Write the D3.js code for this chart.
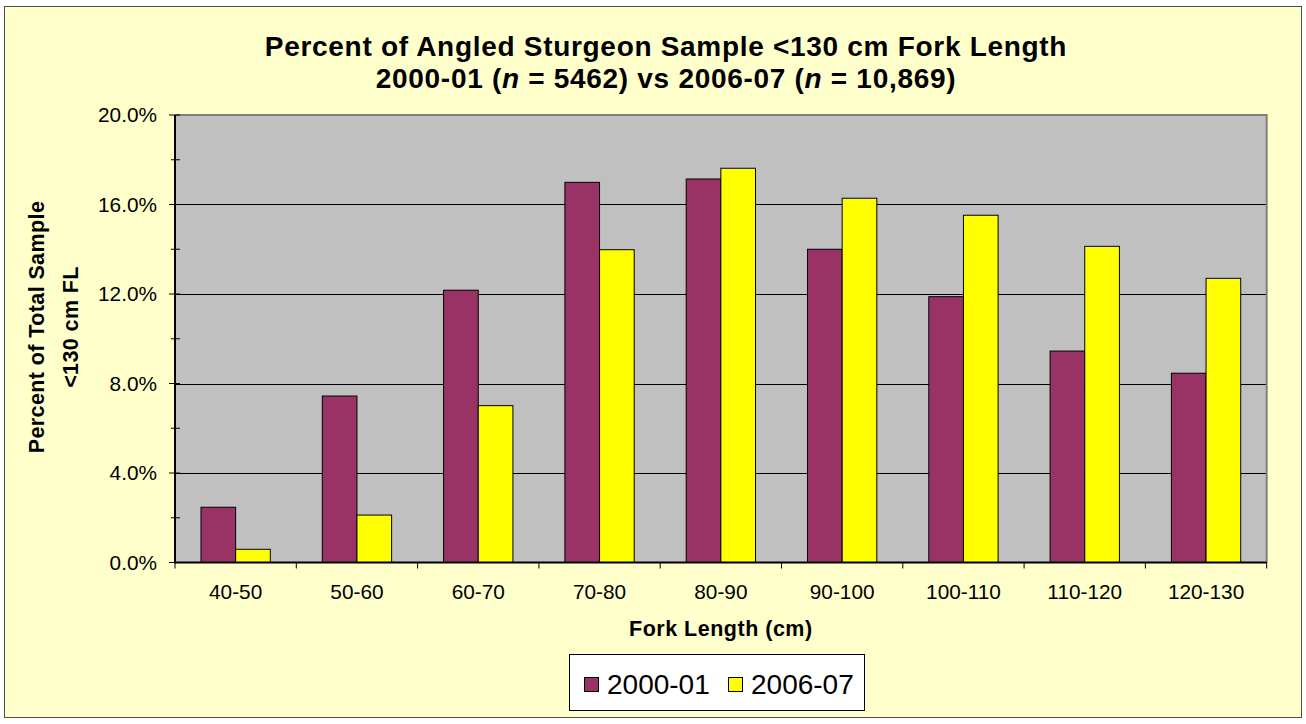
<!DOCTYPE html>
<html>
<head>
<meta charset="utf-8">
<script src="https://cdn.jsdelivr.net/npm/d3@7"></script>
<style>
  html, body { margin: 0; padding: 0; background: #ffffff; }
  svg { display: block; font-family: Arial, "Liberation Sans", sans-serif; }
</style>
</head>
<body>
<svg id="chart" width="1306" height="724"></svg>
<script>
// ---- data ----
const categories = ["40-50", "50-60", "60-70", "70-80", "80-90", "90-100", "100-110", "110-120", "120-130"];
const seriesNames = ["2000-01", "2006-07"];
const values2000 = [2.47, 7.44, 12.17, 16.99, 17.14, 14.0, 11.88, 9.45, 8.46];
const values2006 = [0.59, 2.12, 7.01, 13.98, 17.62, 16.28, 15.52, 14.13, 12.70];
const yTicks = [0, 4, 8, 12, 16, 20];
const yMinorTicks = [2, 6, 10, 14, 18];
const colors = ["#993366", "#FFFF00"];

const seriesValues = [values2000, values2006];

const svg = d3.select("#chart");

// outer chart area
svg.append("rect")
  .attr("x", 4.5).attr("y", 6.5).attr("width", 1297).attr("height", 711)
  .attr("fill", "#FFFFCC").attr("stroke", "#4d4d4d").attr("stroke-width", 1);

const plot = { left: 175, right: 1266.7, top: 115, bottom: 562.5 };

const x = d3.scaleBand().domain(categories).range([plot.left, plot.right]).paddingInner(0).paddingOuter(0);
const x1 = d3.scaleBand().domain(seriesNames).range([0, x.bandwidth()]).paddingInner(0).paddingOuter(0.75);
const y = d3.scaleLinear().domain([0, 20]).range([plot.bottom, plot.top]);

// plot background
svg.append("rect")
  .attr("x", plot.left).attr("y", plot.top)
  .attr("width", plot.right - plot.left).attr("height", plot.bottom - plot.top)
  .attr("fill", "#C0C0C0");

// gridlines
svg.append("g").selectAll("line")
  .data(yTicks.filter(t => t > 0 && t < 20))
  .join("line")
  .attr("x1", plot.left).attr("x2", plot.right)
  .attr("y1", d => Math.round(y(d)) + 0.5).attr("y2", d => Math.round(y(d)) + 0.5)
  .attr("stroke", "#000").attr("stroke-width", 1);

// plot border top / right
svg.append("path")
  .attr("d", `M${plot.left},${plot.top}H${plot.right}V${plot.bottom}`)
  .attr("fill", "none").attr("stroke", "#808080").attr("stroke-width", 2);

// bars
const groups = svg.append("g").selectAll("g")
  .data(seriesNames)
  .join("g")
  .attr("fill", (d, i) => colors[i]);

groups.selectAll("rect")
  .data((s, si) => categories.map((c, ci) => ({ c, s, v: seriesValues[si][ci] })))
  .join("rect")
  .attr("x", d => x(d.c) + x1(d.s))
  .attr("y", d => y(d.v))
  .attr("width", x1.bandwidth())
  .attr("height", d => y(0) - y(d.v))
  .attr("stroke", "#000").attr("stroke-width", 1);

// y axis
const yAxis = d3.axisLeft(y).tickValues(yTicks).tickFormat(d => d.toFixed(1) + "%").tickSize(0).tickPadding(18);
const yg = svg.append("g").attr("transform", `translate(${plot.left},0)`).call(yAxis);
yg.select(".domain").remove();
yg.selectAll("text")
  .attr("font-size", 20.8).attr("fill", "#000")
  .attr("font-family", "Arial, 'Liberation Sans', sans-serif");

// y ticks (cross)
svg.append("g").selectAll("line")
  .data(yTicks)
  .join("line")
  .attr("x1", plot.left - 6).attr("x2", plot.left + 5)
  .attr("y1", d => y(d)).attr("y2", d => y(d))
  .attr("stroke", "#000").attr("stroke-width", 1);
svg.append("g").selectAll("line")
  .data(yMinorTicks)
  .join("line")
  .attr("x1", plot.left - 4).attr("x2", plot.left + 5)
  .attr("y1", d => y(d)).attr("y2", d => y(d))
  .attr("stroke", "#000").attr("stroke-width", 1);

// y axis line
svg.append("line")
  .attr("x1", plot.left).attr("x2", plot.left)
  .attr("y1", plot.top).attr("y2", plot.bottom)
  .attr("stroke", "#000").attr("stroke-width", 2);

// x axis labels
const xAxis = d3.axisBottom(x).tickSize(0).tickPadding(22);
const xg = svg.append("g").attr("transform", `translate(0,${plot.bottom})`).call(xAxis);
xg.select(".domain").remove();
xg.selectAll("text")
  .attr("font-size", 20.8).attr("fill", "#000")
  .attr("font-family", "Arial, 'Liberation Sans', sans-serif");

// x boundary ticks
const boundaries = categories.map(c => x(c)).concat([x.range()[1]]);
svg.append("g").selectAll("line")
  .data(boundaries)
  .join("line")
  .attr("x1", d => d).attr("x2", d => d)
  .attr("y1", plot.bottom).attr("y2", plot.bottom + 6)
  .attr("stroke", "#000").attr("stroke-width", 1);

// x axis line
svg.append("line")
  .attr("x1", plot.left - 1).attr("x2", plot.right)
  .attr("y1", plot.bottom).attr("y2", plot.bottom)
  .attr("stroke", "#000").attr("stroke-width", 2);

// title
const title = svg.append("text")
  .attr("text-anchor", "middle").attr("font-weight", "bold")
  .attr("font-size", 28).attr("letter-spacing", 0.7).attr("fill", "#000");
title.append("tspan").attr("x", 666).attr("y", 56)
  .text("Percent of Angled Sturgeon Sample <130 cm Fork Length");
const t2 = title.append("tspan").attr("x", 666).attr("y", 88);
t2.append("tspan").text("2000-01 (");
t2.append("tspan").attr("font-style", "italic").text("n");
t2.append("tspan").text(" = 5462) vs 2006-07 (");
t2.append("tspan").attr("font-style", "italic").text("n");
t2.append("tspan").text(" = 10,869)");

// y axis title
const yt = svg.append("text")
  .attr("transform", "translate(0,327) rotate(-90)")
  .attr("text-anchor", "middle").attr("font-weight", "bold")
  .attr("font-size", 21.5).attr("letter-spacing", 0.4).attr("fill", "#000");
yt.append("tspan").attr("x", 0).attr("y", 44).text("Percent of Total Sample");
yt.append("tspan").attr("x", 0).attr("y", 78).text("<130 cm FL");

// x axis title
svg.append("text")
  .attr("x", (plot.left + plot.right) / 2).attr("y", 636)
  .attr("text-anchor", "middle").attr("font-weight", "bold")
  .attr("font-size", 21.5).attr("letter-spacing", 0.5).attr("fill", "#000")
  .text("Fork Length (cm)");

// legend
const legend = svg.append("g");
legend.append("rect")
  .attr("x", 569.5).attr("y", 654.5).attr("width", 295).attr("height", 56)
  .attr("fill", "#fff").attr("stroke", "#000").attr("stroke-width", 1);
const legendX = [584, 728];
const li = legend.selectAll("g.item")
  .data(seriesNames)
  .join("g").attr("class", "item")
  .attr("transform", (d, i) => `translate(${legendX[i]},0)`);
li.append("rect")
  .attr("x", 0.5).attr("y", 677.5).attr("width", 14).attr("height", 14)
  .attr("fill", (d, i) => colors[i]).attr("stroke", "#000").attr("stroke-width", 1);
li.append("text")
  .attr("x", 23).attr("y", 694)
  .attr("font-size", 28).attr("fill", "#000")
  .text(d => d);
</script>
</body>
</html>
